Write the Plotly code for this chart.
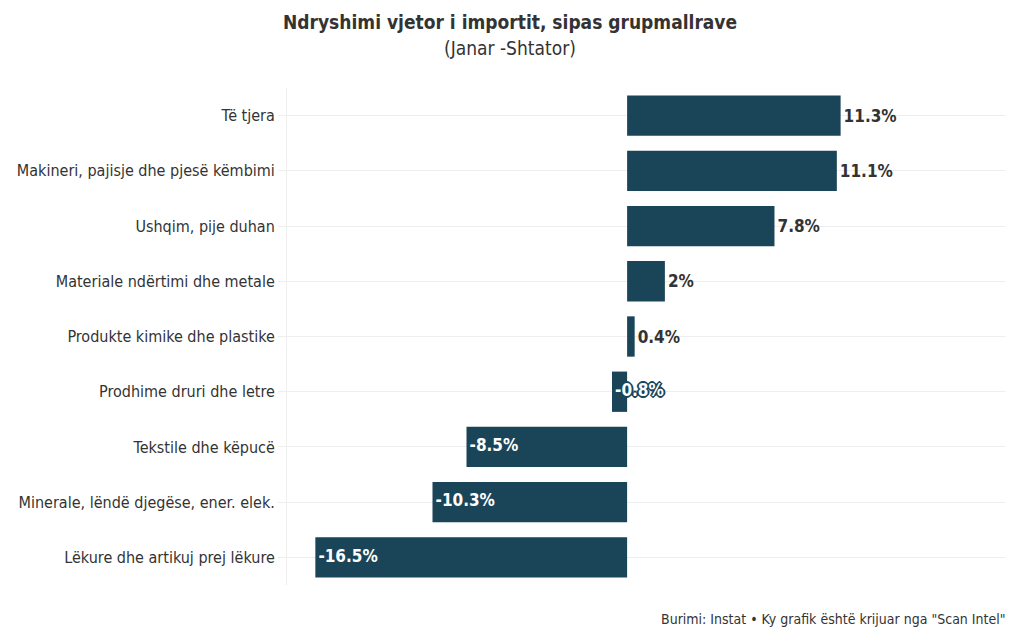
import plotly.graph_objects as go

categories = [
    "Të tjera",
    "Makineri, pajisje dhe pjesë këmbimi",
    "Ushqim, pije duhan",
    "Materiale ndërtimi dhe metale",
    "Produkte kimike dhe plastike",
    "Prodhime druri dhe letre",
    "Tekstile dhe këpucë",
    "Minerale, lëndë djegëse, ener. elek.",
    "Lëkure dhe artikuj prej lëkure",
]
values = [11.3, 11.1, 7.8, 2, 0.4, -0.8, -8.5, -10.3, -16.5]
labels = [f"{v:g}%" for v in values]

BAR = "#1a4559"
FONT = "DejaVu Sans Condensed, Liberation Sans Narrow, Roboto, sans-serif"

pos_text = [l if v >= 0 else "" for v, l in zip(values, labels)]
neg_x = [v for v in values if v < 0]
neg_y = [c for c, v in zip(categories, values) if v < 0]
neg_t = ["\u2009" + l for v, l in zip(values, labels) if v < 0]

fig = go.Figure()
fig.add_trace(go.Bar(
    x=values, y=categories, orientation="h",
    marker=dict(color=BAR, line=dict(width=0)),
    text=pos_text, textposition="outside", cliponaxis=False,
    textfont=dict(family=FONT, size=17, color="#333333", weight="bold"),
    hoverinfo="skip",
))
fig.add_trace(go.Scatter(
    x=neg_x, y=neg_y, mode="text", text=neg_t,
    textposition="middle right",
    textfont=dict(family=FONT, size=17, color="white", weight="bold",
                  shadow=f"1px 1px 0 {BAR}, -1px -1px 0 {BAR}, 1px -1px 0 {BAR}, -1px 1px 0 {BAR}, 0 2px 0 {BAR}, 2px 0 0 {BAR}, 0 -2px 0 {BAR}, -2px 0 0 {BAR}"),
    hoverinfo="skip", cliponaxis=False,
))

H_PLOT = 640 - 88 - 55

def py(px):
    return (640 - 55 - px) / H_PLOT

fig.update_layout(
    width=1020, height=640,
    margin=dict(l=287, r=15, t=88, b=55),
    paper_bgcolor="white", plot_bgcolor="white",
    showlegend=False, bargap=0.27,
    font=dict(family=FONT, color="#333333"),
    xaxis=dict(range=[-18, 20], showgrid=False, zeroline=False,
               showticklabels=False, ticks="", showline=False),
    yaxis=dict(autorange="reversed", showgrid=True, gridcolor="#eeeeee",
               showline=True, linecolor="#eeeeee", ticks="outside",
               ticklen=8, tickcolor="#eeeeee",
               tickfont=dict(family=FONT, size=16, color="#333333")),
    annotations=[
        dict(text="<b>Ndryshimi vjetor i importit, sipas grupmallrave</b>",
             xref="paper", yref="paper", x=(510 - 287) / 718, y=py(22),
             xanchor="center", yanchor="middle", showarrow=False,
             font=dict(family=FONT, size=19, color="#333333")),
        dict(text="(Janar -Shtator)",
             xref="paper", yref="paper", x=(510 - 287) / 718, y=py(48),
             xanchor="center", yanchor="middle", showarrow=False,
             font=dict(family=FONT, size=19, color="#333333")),
        dict(text='Burimi: Instat • Ky grafik është krijuar nga "Scan Intel"',
             xref="paper", yref="paper", x=(1008 - 287) / 718, y=py(619),
             xanchor="right", yanchor="middle", showarrow=False,
             font=dict(family=FONT, size=14, color="#333333")),
    ],
)

fig.write_html("out.html", config={"displayModeBar": False},
               post_script="document.body.style.margin='0';")
